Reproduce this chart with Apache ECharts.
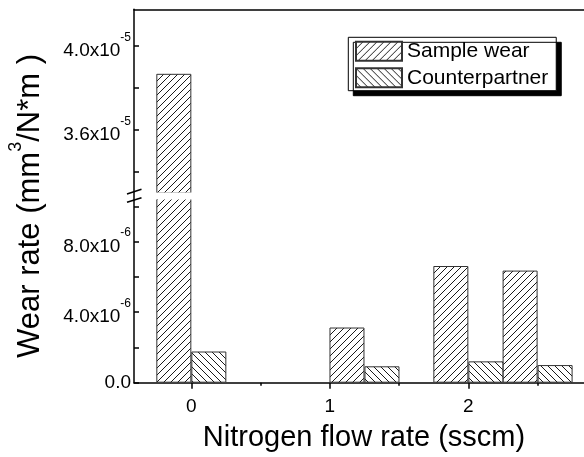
<!DOCTYPE html>
<html><head><meta charset="utf-8">
<script src="https://cdn.jsdelivr.net/npm/echarts@6/dist/echarts.min.js"></script>
<style>html,body{margin:0;padding:0;background:#fff}#chart{width:584px;height:457px}</style>
</head><body><div id="chart"></div>
<script>
// ---- data ----
const categories = [0, 1.25, 2, 2.5];            // x positions of bar pairs (sscm)
const sampleWear = [3.867e-5, 3.13e-6, 6.62e-6, 6.36e-6];
const counterpartner = [1.77e-6, 0.93e-6, 1.21e-6, 1.00e-6];
const xTickValues = [0, 1, 2];
const xTickLabels = ['0', '1', '2'];
const xMinorTickValues = [0.5, 1.5, 2.5];
const upperTickValues = [3.4e-5, 3.6e-5, 3.8e-5, 4.0e-5];
const upperLabelValues = [3.6e-5, 4.0e-5];
const lowerTickValues = [0, 2e-6, 4e-6, 6e-6, 8e-6, 1.0e-5];
const lowerLabelValues = [0, 4e-6, 8e-6];
const seriesNames = ['Sample wear', 'Counterpartner'];

const FONT = 'Liberation Sans, Arial, sans-serif';

function hatch(dir) {
  const c = document.createElement('canvas');
  c.width = 7; c.height = 7;
  const g = c.getContext('2d');
  g.fillStyle = '#fff'; g.fillRect(0, 0, 7, 7);
  g.strokeStyle = '#000'; g.lineWidth = 0.9;
  g.beginPath();
  if (dir > 0) {
    g.moveTo(0, 7); g.lineTo(7, 0);
    g.moveTo(-1, 1); g.lineTo(1, -1);
    g.moveTo(6, 8); g.lineTo(8, 6);
  } else {
    g.moveTo(0, 0); g.lineTo(7, 7);
    g.moveTo(-1, 6); g.lineTo(1, 8);
    g.moveTo(6, -1); g.lineTo(8, 1);
  }
  g.stroke();
  return c;
}
const patterns = [hatch(1), hatch(-1)];

function sciLabel(v) {
  if (v === 0) return '{z|0.0}';
  const e = Math.floor(Math.log10(v) + 1e-9);
  const m = v / Math.pow(10, e);
  return '{m|' + m.toFixed(1) + 'x10}{sup|' + e + '}';
}
const labelRich = {
  z: { fontSize: 19, fontFamily: FONT, color: '#000' },
  m: { fontSize: 19, fontFamily: FONT, color: '#000', padding: [10, 0, 0, 0] },
  sup: { fontSize: 12, fontFamily: FONT, color: '#000', padding: [0, 0, 17, 0] }
};

const xRange = [-0.414, 2.835];
const upperRange = [3.298e-5, 4.175e-5];
const lowerRange = [0, 1.045e-5];

function bars(idx, gridIdx) {
  const vals = idx === 0 ? sampleWear : counterpartner;
  return {
    type: 'bar', name: seriesNames[idx],
    xAxisIndex: gridIdx, yAxisIndex: gridIdx,
    data: categories.map((x, i) => [x, vals[i]]),
    barWidth: 35, barGap: '0%',
    itemStyle: { color: { image: patterns[idx], repeat: 'repeat' }, borderColor: '#333', borderWidth: 1 },
    emphasis: { disabled: true },
    clip: true
  };
}

const axisLine = { show: true, onZero: false, lineStyle: { color: '#000', width: 1.5 } };
const noLine = { show: false, onZero: false };

const option = {
  animation: false,
  backgroundColor: '#fff',
  grid: [
    { left: 134, right: 0, top: 9.3, height: 183.7, outerBoundsMode: 'none', containLabel: false },
    { left: 134, right: 0, top: 198.5, height: 184.2, outerBoundsMode: 'none', containLabel: false },
    { left: 134, right: 0, top: 9.3, height: 373.4, outerBoundsMode: 'none', containLabel: false }
  ],
  xAxis: [
    { type: 'value', gridIndex: 0, position: 'top', min: xRange[0], max: xRange[1],
      axisLine: axisLine, axisTick: { show: false }, axisLabel: { show: false }, splitLine: { show: false } },
    { type: 'value', gridIndex: 1, position: 'bottom', min: xRange[0], max: xRange[1],
      axisLine: axisLine,
      axisTick: { show: true, customValues: xTickValues, length: 6, inside: false, lineStyle: { color: '#000', width: 1.5 } },
      axisLabel: { show: true, customValues: xTickValues, margin: 15, fontSize: 19, fontFamily: FONT, color: '#000',
        formatter: v => xTickLabels[xTickValues.indexOf(v)] },
      splitLine: { show: false },
      name: 'Nitrogen flow rate (sscm)', nameLocation: 'middle', nameGap: 41,
      nameTextStyle: { fontSize: 29, fontFamily: FONT, color: '#000', padding: [0, 0, 0, 10] } },
    { type: 'value', gridIndex: 2, position: 'bottom', min: xRange[0], max: xRange[1],
      axisLine: noLine,
      axisTick: { show: true, customValues: xMinorTickValues, length: 3, inside: false, lineStyle: { color: '#000', width: 1.5 } },
      axisLabel: { show: false }, splitLine: { show: false } }
  ],
  yAxis: [
    { type: 'value', gridIndex: 0, min: upperRange[0], max: upperRange[1],
      axisLine: noLine,
      axisTick: { show: true, customValues: upperTickValues, inside: true, length: 5, lineStyle: { color: '#000', width: 1.5 } },
      axisLabel: { show: true, customValues: upperLabelValues, margin: 3, formatter: sciLabel, rich: labelRich },
      splitLine: { show: false } },
    { type: 'value', gridIndex: 1, min: lowerRange[0], max: lowerRange[1],
      axisLine: noLine,
      axisTick: { show: true, customValues: lowerTickValues, inside: true, length: 5, lineStyle: { color: '#000', width: 1.5 } },
      axisLabel: { show: true, customValues: lowerLabelValues, margin: 3, formatter: sciLabel, rich: labelRich },
      splitLine: { show: false } },
    { type: 'value', gridIndex: 2, min: 0, max: 1,
      axisLine: axisLine, axisTick: { show: false }, axisLabel: { show: false }, splitLine: { show: false },
      name: '{t|Wear rate (mm}{s|3}{t|/N*m )}', nameLocation: 'middle', nameGap: 88,
      nameTextStyle: { padding: [0, 20, 0, 0],
        rich: {
          t: { fontSize: 31, fontFamily: FONT, color: '#000', padding: [8, 0, 0, 0] },
          s: { fontSize: 18, fontFamily: FONT, color: '#000', padding: [0, 0, 21, 0] }
        } } }
  ],
  legend: {
    left: 348.3, top: 37.3, orient: 'vertical', icon: 'rect',
    itemWidth: 46, itemHeight: 19, itemGap: 5.6,
    padding: [3.4, 8, 2.4, 6.7],
    backgroundColor: '#fff', borderColor: '#000', borderWidth: 1,
    shadowColor: '#000', shadowBlur: 0, shadowOffsetX: 5, shadowOffsetY: 5,
    textStyle: { fontSize: 21, fontFamily: FONT, color: '#000' },
    data: seriesNames, selectedMode: false, z: 20
  },
  graphic: [
    { type: 'rect', z: 100, silent: true, shape: { x: 135, y: 192.4, width: 449, height: 7 }, style: { fill: '#fff' } },
    { type: 'line', z: 101, silent: true, shape: { x1: 127, y1: 194, x2: 141.5, y2: 189.3 }, style: { stroke: '#000', lineWidth: 1.5 } },
    { type: 'line', z: 101, silent: true, shape: { x1: 127, y1: 202.3, x2: 141.5, y2: 197.7 }, style: { stroke: '#000', lineWidth: 1.5 } }
  ],
  series: [bars(0, 0), bars(1, 0), bars(0, 1), bars(1, 1)]
};

const chart = echarts.init(document.getElementById('chart'), null, { renderer: 'canvas' });
chart.setOption(option);
</script>
</body></html>
